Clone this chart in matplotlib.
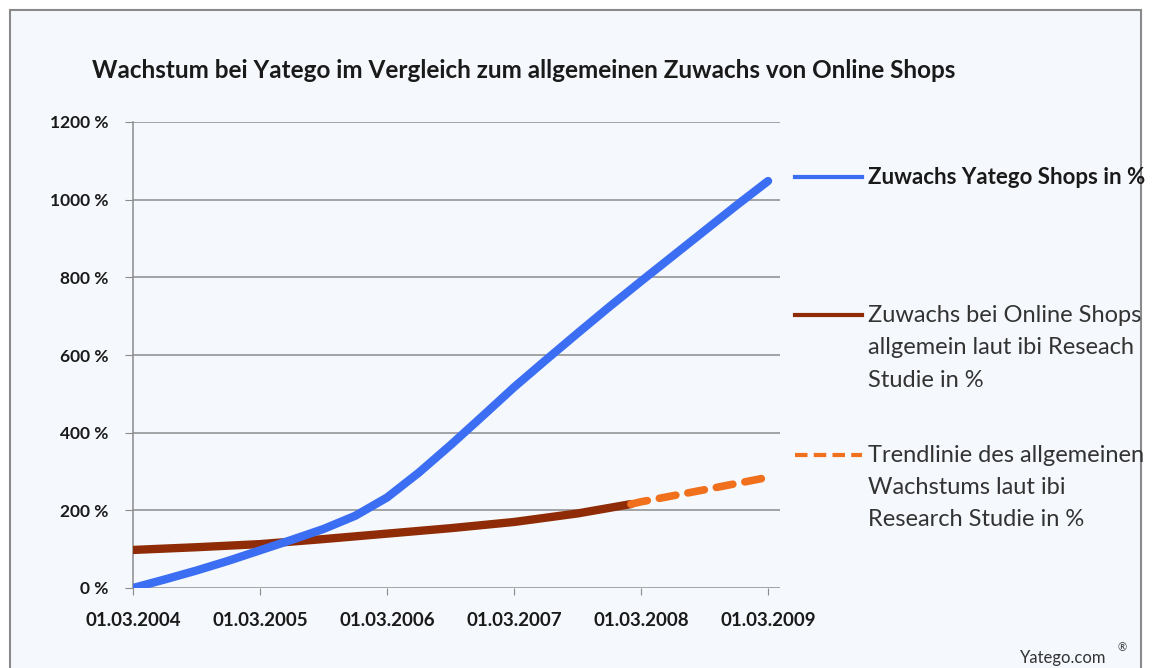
import numpy as np
import matplotlib
matplotlib.use("Agg")
import matplotlib.pyplot as plt
from matplotlib.lines import Line2D
from matplotlib.patches import Rectangle

plt.rcParams["font.family"] = ["Lato", "DejaVu Sans"]

# values (quarter-year steps)
jahre = [2004.0, 2004.25, 2004.5, 2004.75, 2005.0, 2005.25, 2005.5, 2005.75, 2006.0, 2006.25, 2006.5,
         2006.75, 2007.0, 2007.25, 2007.5, 2007.75, 2008.0, 2008.25, 2008.5, 2008.75, 2009.0]
yatego = [0, 22, 45, 70, 97, 124, 152, 186, 233, 297, 368,
          442, 517, 587, 656, 724, 790, 855, 920, 985, 1048]

jahre_allg = [2004.0, 2004.5, 2005.0, 2005.5, 2006.0, 2006.5, 2007.0, 2007.5, 2007.92]
allgemein = [98, 105, 113, 126, 140, 154, 170, 192, 216]

jahre_trend = [2007.92, 2008.0, 2008.5, 2009.0]
trend = [216, 222, 253, 285]

x_ticks = [2004, 2005, 2006, 2007, 2008, 2009]
x_labels = ["01.03.2004", "01.03.2005", "01.03.2006", "01.03.2007", "01.03.2008", "01.03.2009"]
y_ticks = [0, 200, 400, 600, 800, 1000, 1200]

blau = "#3b6ef2"
braun = "#8f2c07"
orange = "#f0701e"
bg = "#f5f8fc"

W, H = 1154, 668
fig = plt.figure(figsize=(W / 100, H / 100), dpi=100, facecolor="white")

# frame round the chart
fig.patches.append(Rectangle((10 / W, -0.05), (1141 - 10) / W, (H - 10) / H + 0.05,
                             transform=fig.transFigure, facecolor=bg,
                             edgecolor="#8a8a8a", linewidth=1.5, zorder=-5))

ax = fig.add_axes([133 / W, 1 - 588 / H, (780 - 133) / W, (588 - 122) / H])
ax.patch.set_alpha(0)

ax.set_xlim(2004, 2009.094)
ax.set_ylim(0, 1200)

for y in y_ticks:
    ax.axhline(y, color="#8c8c8c", lw=1.1, zorder=1)

ax.plot(jahre_allg, allgemein, color=braun, lw=6, solid_capstyle="round", solid_joinstyle="round", zorder=3)
ax.plot(jahre_trend, trend, color=orange, lw=5.5, dashes=(2.2, 1.6), dash_capstyle="round", zorder=3)
ax.plot(jahre, yatego, color=blau, lw=6, solid_capstyle="round", solid_joinstyle="round", zorder=4)

for s in ["top", "right", "bottom"]:
    ax.spines[s].set_visible(False)
ax.spines["left"].set_color("#8c8c8c")
ax.spines["left"].set_linewidth(1.1)

ax.set_yticks(y_ticks)
ax.set_yticklabels(["%d %%" % v for v in y_ticks], fontsize=12.5, fontweight="bold", color="#1a1a1a")
ax.set_xticks(x_ticks)
ax.set_xticklabels(x_labels, fontsize=13.5, fontweight="bold", color="#1a1a1a")
ax.tick_params(axis="y", length=6, color="#8c8c8c", pad=12)
ax.tick_params(axis="x", length=5, color="#8c8c8c", pad=12, direction="out")

fig.text(92 / W, 1 - 70 / H, "Wachstum bei Yatego im Vergleich zum allgemeinen Zuwachs von Online Shops",
         fontsize=17.5, fontweight="bold", color="#1a1a1a", va="center")

# legend on the right
def eintrag(y, farbe, ls, zeilen, gewicht, groesse):
    fig.lines.append(Line2D([795 / W, 862 / W], [1 - y / H, 1 - y / H], transform=fig.transFigure,
                            color=farbe, lw=3, linestyle=ls))
    for i, z in enumerate(zeilen):
        fig.text(868 / W, 1 - (y + i * 32.5) / H, z, fontsize=groesse, fontweight=gewicht,
                 color="#333333" if gewicht == "normal" else "#1a1a1a", va="center")

eintrag(177, blau, "-", ["Zuwachs Yatego Shops in %"], "bold", 16)
eintrag(315, braun, "-", ["Zuwachs bei Online Shops", "allgemein laut ibi Reseach", "Studie in %"], "normal", 17)
eintrag(455, orange, (0, (3, 1.5)), ["Trendlinie des allgemeinen", "Wachstums laut ibi", "Research Studie in %"], "normal", 17)

fig.text(1020 / W, 1 - 658 / H, "Yatego.com", fontsize=12, color="#333333", va="center")
fig.text(1117 / W, 1 - 648 / H, "®", fontsize=8, color="#333333", va="center")

fig.savefig("out.png", dpi=100, facecolor="white")
